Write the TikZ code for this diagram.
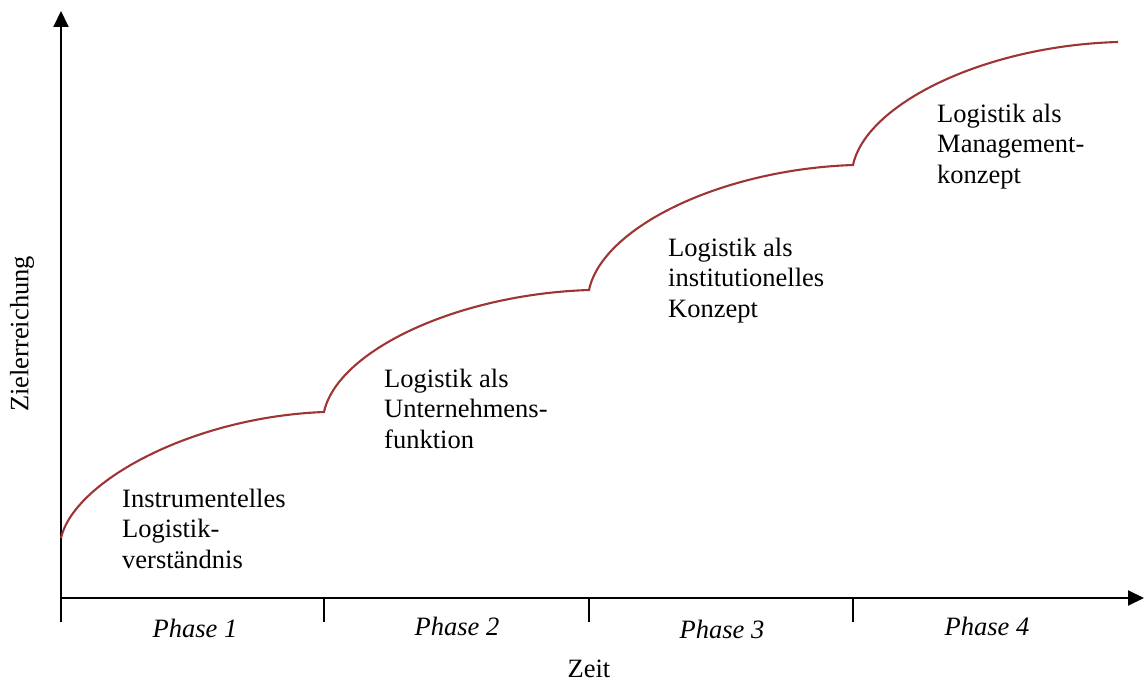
\documentclass[tikz,border=0pt]{standalone}
\usepackage{fontspec}
\setmainfont{Liberation Serif}
\usetikzlibrary{arrows.meta}
\begin{document}
\begin{tikzpicture}[x=1pt,y=-1pt,
  axis/.style={line width=2pt,-{Triangle[length=16pt,width=15pt]}},
  tickline/.style={line width=2pt},
  growth/.style={line width=2.1pt,draw=curvered},
  stage/.style={anchor=base west,align=left,inner sep=0pt,font=\fontsize{26.5}{30.5}\selectfont},
  phase/.style={anchor=base,inner sep=0pt,font=\fontsize{26.5}{30.5}\selectfont\itshape},
  axlabel/.style={inner sep=0pt,font=\fontsize{26.5}{30.5}\selectfont}]
\definecolor{curvered}{RGB}{158,52,52}
\useasboundingbox (0,0) rectangle (1145,682);

% axes
\coordinate (o) at (60,598);
\coordinate (ybot) at (61,622);
\coordinate (ytop) at (61,11);
\coordinate (xend) at (1144,598);
\draw[axis] (ybot) -- (ytop);
\draw[axis] (o) -- (xend);

% phase separators
\coordinate (t1a) at (324,598); \coordinate (t1b) at (324,622);
\coordinate (t2a) at (589,598); \coordinate (t2b) at (589,622);
\coordinate (t3a) at (853,598); \coordinate (t3b) at (853,622);
\draw[tickline] (t1a) -- (t1b);
\draw[tickline] (t2a) -- (t2b);
\draw[tickline] (t3a) -- (t3b);

% stepped growth curve
\coordinate (s0) at (61,538);
\coordinate (s1) at (324,412);
\coordinate (s2) at (589,290);
\coordinate (s3) at (853,165);
\coordinate (s4) at (1118,42);
\draw[growth] (s0) .. controls (74.2,481.3) and (192.5,417.0) .. (s1)
  .. controls (337.3,351.0) and (456.5,294.3) .. (s2)
  .. controls (602.2,227.5) and (721,169.5) .. (s3)
  .. controls (866.25,103.5) and (985.5,45.7) .. (s4);

% stage descriptions (anchored at the baseline of the last line)
\node[stage] (st1) at (122,568) {Instrumentelles\\Logistik-\\verständnis};
\node[stage] (st2) at (384,448) {Logistik als\\Unternehmens-\\funktion};
\node[stage] (st3) at (668,317) {Logistik als\\institutionelles\\Konzept};
\node[stage] (st4) at (937,183) {Logistik als\\Management-\\konzept};

% phase labels
\node[phase] (p1) at (195,637) {Phase 1};
\node[phase] (p2) at (457,635) {Phase 2};
\node[phase] (p3) at (722,638) {Phase 3};
\node[phase] (p4) at (987,635) {Phase 4};

% axis titles
\node[axlabel,anchor=base] (xlab) at (589,677) {Zeit};
\node[axlabel,rotate=90] (ylab) at (22,334) {Zielerreichung};
\end{tikzpicture}
\end{document}
